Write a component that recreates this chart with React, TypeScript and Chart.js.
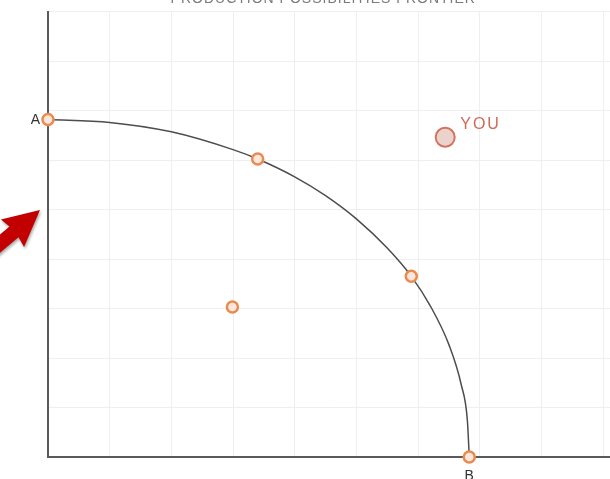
import React, { useEffect, useRef } from "react";
import { Chart, registerables } from "chart.js";

Chart.register(...registerables);

// Frontier curve (x = good 1, y = good 2)
const curveX = [0, 1, 2, 3, 3.4, 4, 4.5, 5, 5.5, 5.89, 6.2, 6.5, 6.7, 6.8, 6.83];
const curveY = [6.82, 6.76, 6.57, 6.21, 6.02, 5.66, 5.28, 4.81, 4.22, 3.65, 3.05, 2.27, 1.46, 0.73, 0];

// Marked points
const pointLabels = ["A", "", "", "", "B"];
const pointX = [0, 3.4, 5.89, 2.99, 6.83];
const pointY = [6.82, 6.02, 3.65, 3.03, 0];

// "You" point
const youX = [6.44];
const youY = [6.46];
const youLabel = "YOU";

const title = "PRODUCTION POSSIBILITIES FRONTIER";

// Arrow annotation (data units): tail -> tip
const arrowTail = { x: -1.12, y: 3.95 };
const arrowTip = { x: -0.13, y: 4.99 };

const xMin = 0;
const xMax = 9.12;
const yMin = 0;
const yMax = 9;

const overlayPlugin = {
  id: "overlay",
  afterDraw(chart: any) {
    const { ctx, chartArea, scales } = chart;
    const xs = scales.x;
    const ys = scales.y;
    ctx.save();

    // title (partly cut off at the top)
    ctx.font = "14px 'Liberation Sans', Arial, sans-serif";
    (ctx as any).letterSpacing = "1px";
    ctx.fillStyle = "#7a7a7a";
    ctx.textAlign = "center";
    ctx.textBaseline = "alphabetic";
    ctx.fillText(title, (chartArea.left + chartArea.right) / 2 - 6, chartArea.top - 9);
    (ctx as any).letterSpacing = "0px";

    // point labels
    ctx.font = "14px 'Liberation Sans', Arial, sans-serif";
    ctx.fillStyle = "#333";
    pointLabels.forEach((lab, i) => {
      if (!lab) return;
      const px = xs.getPixelForValue(pointX[i]);
      const py = ys.getPixelForValue(pointY[i]);
      if (pointY[i] === 0) {
        ctx.textAlign = "center";
        ctx.textBaseline = "top";
        ctx.fillText(lab, px, py + 12);
      } else {
        ctx.textAlign = "right";
        ctx.textBaseline = "middle";
        ctx.fillText(lab, px - 8, py + 1);
      }
    });

    // YOU label
    ctx.font = "16px 'Liberation Sans', Arial, sans-serif";
    (ctx as any).letterSpacing = "2px";
    ctx.fillStyle = "#cf6a55";
    ctx.textAlign = "left";
    ctx.textBaseline = "middle";
    ctx.fillText(
      youLabel,
      xs.getPixelForValue(youX[0]) + 15,
      ys.getPixelForValue(youY[0]) - 13
    );
    (ctx as any).letterSpacing = "0px";

    // arrow
    const tx = xs.getPixelForValue(arrowTail.x);
    const ty = ys.getPixelForValue(arrowTail.y);
    const hx = xs.getPixelForValue(arrowTip.x);
    const hy = ys.getPixelForValue(arrowTip.y);
    const ang = Math.atan2(hy - ty, hx - tx);
    const len = Math.hypot(hx - tx, hy - ty);
    const headLen = 34;
    const headW = 18;
    const shaftW = 7;
    ctx.translate(tx, ty);
    ctx.rotate(ang);
    ctx.beginPath();
    ctx.moveTo(0, -shaftW);
    ctx.lineTo(len - headLen, -shaftW);
    ctx.lineTo(len - headLen - 2, -headW);
    ctx.lineTo(len, 0);
    ctx.lineTo(len - headLen - 2, headW);
    ctx.lineTo(len - headLen, shaftW);
    ctx.lineTo(0, shaftW);
    ctx.closePath();
    ctx.fillStyle = "#c20000";
    ctx.shadowColor = "rgba(0,0,0,0.35)";
    ctx.shadowBlur = 3;
    ctx.shadowOffsetX = 1;
    ctx.shadowOffsetY = 2;
    ctx.fill();
    ctx.restore();
  },
};

export default function App() {
  const ref = useRef<HTMLCanvasElement | null>(null);
  useEffect(() => {
    if (!ref.current) return;
    const chart = new Chart(ref.current, {
      type: "scatter",
      data: {
        datasets: [
          {
            label: "you",
            data: youX.map((x, i) => ({ x, y: youY[i] })),
            pointRadius: 9.5,
            borderWidth: 2,
            borderColor: "#d2735e",
            backgroundColor: "#ecd2cd",
          },
          {
            label: "points",
            data: pointX.map((x, i) => ({ x, y: pointY[i] })),
            pointRadius: 5.5,
            borderWidth: 2.5,
            borderColor: "#ea8a4e",
            backgroundColor: "#fae8de",
            clip: false,
          } as any,
          {
            label: "frontier",
            data: curveX.map((x, i) => ({ x, y: curveY[i] })),
            showLine: true,
            pointRadius: 0,
            borderColor: "#4d4d4d",
            borderWidth: 1.5,
            cubicInterpolationMode: "monotone",
            fill: false,
          } as any,
        ],
      },
      options: {
        animation: false,
        responsive: false,
        layout: { padding: { left: 48, right: 1, top: 8, bottom: 22 } },
        plugins: {
          legend: { display: false },
          tooltip: { enabled: false },
          title: { display: false },
        },
        scales: {
          x: {
            type: "linear",
            min: xMin,
            max: xMax,
            ticks: { display: false, stepSize: 1, includeBounds: false },
            grid: { color: "#efefef", lineWidth: 1, drawTicks: false },
            border: { color: "#5a5a5a", width: 2 },
          },
          y: {
            type: "linear",
            min: yMin,
            max: yMax,
            ticks: { display: false, stepSize: 1 },
            grid: { color: "#efefef", lineWidth: 1, drawTicks: false },
            border: { color: "#5a5a5a", width: 2 },
          },
        },
      },
      plugins: [overlayPlugin],
    });
    return () => chart.destroy();
  }, []);
  return (
    <div
      style={{
        position: "absolute",
        left: 0,
        top: 0,
        width: 610,
        height: 479,
        overflow: "hidden",
        background: "#fff",
      }}
    >
      <canvas ref={ref} width={622} height={479} style={{ display: "block" }} />
    </div>
  );
}
